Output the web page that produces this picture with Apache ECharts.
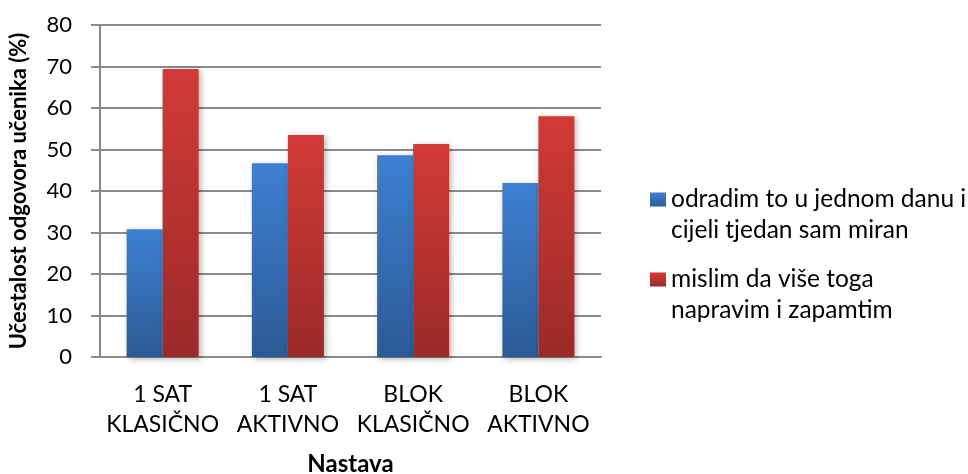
<!DOCTYPE html>
<html>
<head>
<meta charset="utf-8">
<script src="https://cdn.jsdelivr.net/npm/echarts@6/dist/echarts.min.js"></script>
<style>
html, body { margin: 0; padding: 0; background: #fff; }
#chart { width: 968px; height: 474px; }
</style>
</head>
<body>
<div id="chart"></div>
<script>
const categories = ['1 SAT\nKLASIČNO', '1 SAT\nAKTIVNO', 'BLOK\nKLASIČNO', 'BLOK\nAKTIVNO']
const seriesNames = ['odradim to u jednom danu i\ncijeli tjedan sam miran', 'mislim da više toga\nnapravim i zapamtim']
const miranValues = [30.8, 46.7, 48.6, 41.9]
const zapamtimValues = [69.4, 53.5, 51.3, 58.0]
const yTicks = [0, 10, 20, 30, 40, 50, 60, 70, 80]

const font = 'Lato, "Open Sans", sans-serif'

function grad (top, bottom) {
  return {
    type: 'linear', x: 0, y: 0, x2: 0, y2: 1,
    colorStops: [{ offset: 0, color: top }, { offset: 1, color: bottom }]
  }
}

const barShadow = {
  shadowColor: 'rgba(0, 0, 0, 0.3)',
  shadowBlur: 6,
  shadowOffsetX: 2,
  shadowOffsetY: 2
}

// one legend per series so each icon sits next to the first text line
function legendFor (name, top) {
  return {
    orient: 'vertical',
    left: 645,
    top: top,
    itemWidth: 16,
    itemHeight: 14,
    icon: 'rect',
    formatter: function (n) { return '\n' + n },
    textStyle: {
      fontFamily: font,
      fontSize: 24.5,
      color: '#000',
      lineHeight: 31
    },
    data: [name]
  }
}

const chart = echarts.init(document.getElementById('chart'))
chart.setOption({
  animation: false,
  textStyle: { fontFamily: font },
  grid: { left: 100, right: 367, top: 25, bottom: 117, outerBoundsMode: 'none' },
  legend: [legendFor(seriesNames[0], 148), legendFor(seriesNames[1], 228)],
  xAxis: {
    type: 'category',
    data: categories,
    name: 'Nastava',
    nameLocation: 'middle',
    nameGap: 95,
    nameTextStyle: { fontFamily: font, fontSize: 24, fontWeight: 'bold', color: '#000' },
    axisLine: { lineStyle: { color: '#8a8a8a', width: 2 } },
    axisTick: { show: false },
    axisLabel: { fontFamily: font, fontSize: 23, color: '#000', lineHeight: 30, margin: 23, interval: 0 }
  },
  yAxis: {
    type: 'value',
    min: yTicks[0],
    max: yTicks[yTicks.length - 1],
    interval: 10,
    name: 'Učestalost odgovora učenika (%)',
    nameLocation: 'middle',
    nameGap: 70,
    nameTextStyle: { fontFamily: font, fontSize: 22, fontWeight: 'bold', color: '#000' },
    axisLine: { show: true, lineStyle: { color: '#8a8a8a', width: 2 } },
    axisTick: { show: true, length: 9, lineStyle: { color: '#8a8a8a', width: 2 } },
    axisLabel: { fontFamily: font, fontSize: 22, color: '#000', margin: 28 },
    splitLine: { lineStyle: { color: '#8a8a8a', width: 2 } }
  },
  series: [{
    name: seriesNames[0],
    type: 'bar',
    data: miranValues,
    barWidth: 36,
    barGap: '0%',
    itemStyle: Object.assign({ color: grad('#3e80d2', '#2c5a96') }, barShadow)
  }, {
    name: seriesNames[1],
    type: 'bar',
    data: zapamtimValues,
    barWidth: 36,
    barGap: '0%',
    itemStyle: Object.assign({ color: grad('#d23a36', '#9b2a2a') }, barShadow)
  }]
})
</script>
</body>
</html>
